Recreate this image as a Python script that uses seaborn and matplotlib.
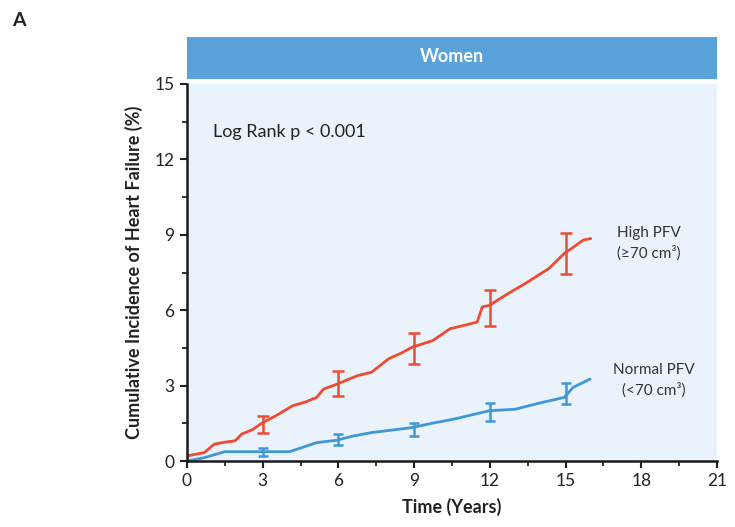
import matplotlib
matplotlib.use("Agg")
import matplotlib.pyplot as plt
from matplotlib.patches import Rectangle
import seaborn as sns
import pandas as pd
import numpy as np

# ---- data ----
high_t = [0, 0.25, 0.68, 1.08, 1.5, 1.9, 2.17, 2.6, 3.0, 3.52, 4.19, 4.7, 5.14, 5.41, 5.95,
          6.4, 6.77, 7.31, 7.98, 8.5, 8.93, 9.74, 10.42, 11.0, 11.5, 11.7, 11.98, 12.72,
          13.4, 14.34, 14.95, 15.3, 15.7, 16.0]
high_v = [0.2, 0.25, 0.33, 0.67, 0.75, 0.8, 1.07, 1.25, 1.53, 1.8, 2.2, 2.35, 2.53, 2.86,
          3.06, 3.25, 3.4, 3.53, 4.06, 4.3, 4.53, 4.79, 5.26, 5.4, 5.53, 6.13, 6.19, 6.66,
          7.06, 7.66, 8.26, 8.5, 8.79, 8.85]
norm_t = [0, 0.68, 1.49, 4.06, 4.6, 5.14, 5.95, 6.6, 7.31, 8.93, 9.7, 10.55, 11.98, 13.0,
          14.07, 14.95, 15.3, 15.97]
norm_v = [0, 0.13, 0.37, 0.37, 0.55, 0.73, 0.83, 1.0, 1.13, 1.33, 1.5, 1.66, 2.0, 2.06,
          2.33, 2.53, 2.93, 3.26]

err_t = [3, 6, 9, 12, 15]
high_lo = [1.13, 2.6, 3.86, 5.39, 7.46]
high_hi = [1.8, 3.57, 5.09, 6.79, 9.07]
norm_lo = [0.2, 0.64, 1.0, 1.6, 2.26]
norm_hi = [0.5, 1.09, 1.53, 2.29, 3.09]

x_ticks = [0, 3, 6, 9, 12, 15, 18, 21]
y_ticks = [0, 3, 6, 9, 12, 15]

RED = "#EE4B33"
BLUE = "#3E98D6"
BAR = "#5AA3DA"
BG = "#EAF2FB"

sns.set_style("ticks")
plt.rcParams["font.family"] = ["Lato", "DejaVu Sans"]

fig = plt.figure(figsize=(7.35, 5.27), dpi=100)
W, H = 735, 527
ax = fig.add_axes([187 / W, 1 - 461 / H, (717 - 187) / W, (461 - 84) / H])
ax.set_facecolor(BG)

df = pd.concat([
    pd.DataFrame({"t": high_t, "v": high_v, "g": "High"}),
    pd.DataFrame({"t": norm_t, "v": norm_v, "g": "Normal"}),
])
sns.lineplot(data=df, x="t", y="v", hue="g", palette={"High": RED, "Normal": BLUE},
             linewidth=2.0, ax=ax, legend=False, estimator=None, sort=False)

def errs(lo, hi):
    mid = [(a + b) / 2 for a, b in zip(lo, hi)]
    return mid, [[m - a for m, a in zip(mid, lo)], [b - m for m, b in zip(mid, hi)]]

m, e = errs(high_lo, high_hi)
ax.errorbar(err_t, m, yerr=e, fmt="none", ecolor=RED, elinewidth=1.8, capsize=4.5, capthick=1.8)
m, e = errs(norm_lo, norm_hi)
ax.errorbar(err_t, m, yerr=e, fmt="none", ecolor=BLUE, elinewidth=1.8, capsize=3.5, capthick=1.8)

ax.set_xlim(0, 21)
ax.set_ylim(0, 15)
ax.set_xticks(x_ticks)
ax.set_yticks(y_ticks)
ax.set_xticks(np.arange(0, 21.1, 1.5), minor=True)
ax.set_yticks(np.arange(0, 15.1, 1.5), minor=True)
ax.tick_params(axis="both", which="major", length=5, width=1.5, labelsize=12.5,
               colors="#222222", pad=4)
ax.tick_params(axis="both", which="minor", length=3.5, width=1.3)
for s in ["top", "right"]:
    ax.spines[s].set_visible(False)
for s in ["left", "bottom"]:
    ax.spines[s].set_linewidth(1.8)
    ax.spines[s].set_color("#1a1a1a")

ax.set_xlabel("Time (Years)", fontsize=13, fontweight="bold", color="#222222", labelpad=6)
ax.set_ylabel("Cumulative Incidence of Heart Failure (%)", fontsize=13,
              fontweight="bold", color="#222222", labelpad=8)

ax.text(1.03, 13.1, "Log Rank p < 0.001", fontsize=13, color="#222222", va="center", ha="left")
ax.text(18.3, 8.65, "High PFV\n(≥70 cm³)", fontsize=11, color="#333333",
        ha="center", va="center", linespacing=1.4)
ax.text(18.5, 3.2, "Normal PFV\n(<70 cm³)", fontsize=11, color="#333333",
        ha="center", va="center", linespacing=1.4)

# header bar
fig.patches.append(Rectangle((187 / W, 1 - 79 / H), (717 - 187) / W, (79 - 37) / H,
                             transform=fig.transFigure, facecolor=BAR, edgecolor="none"))
fig.text((187 + 717) / 2 / W, 1 - 57 / H, "Women", color="white", fontsize=13,
         fontweight="bold", ha="center", va="center")
fig.text(12 / W, 1 - 20 / H, "A", fontsize=14, fontweight="bold", color="#222222",
         ha="left", va="center")

fig.savefig("out.png", dpi=100)
